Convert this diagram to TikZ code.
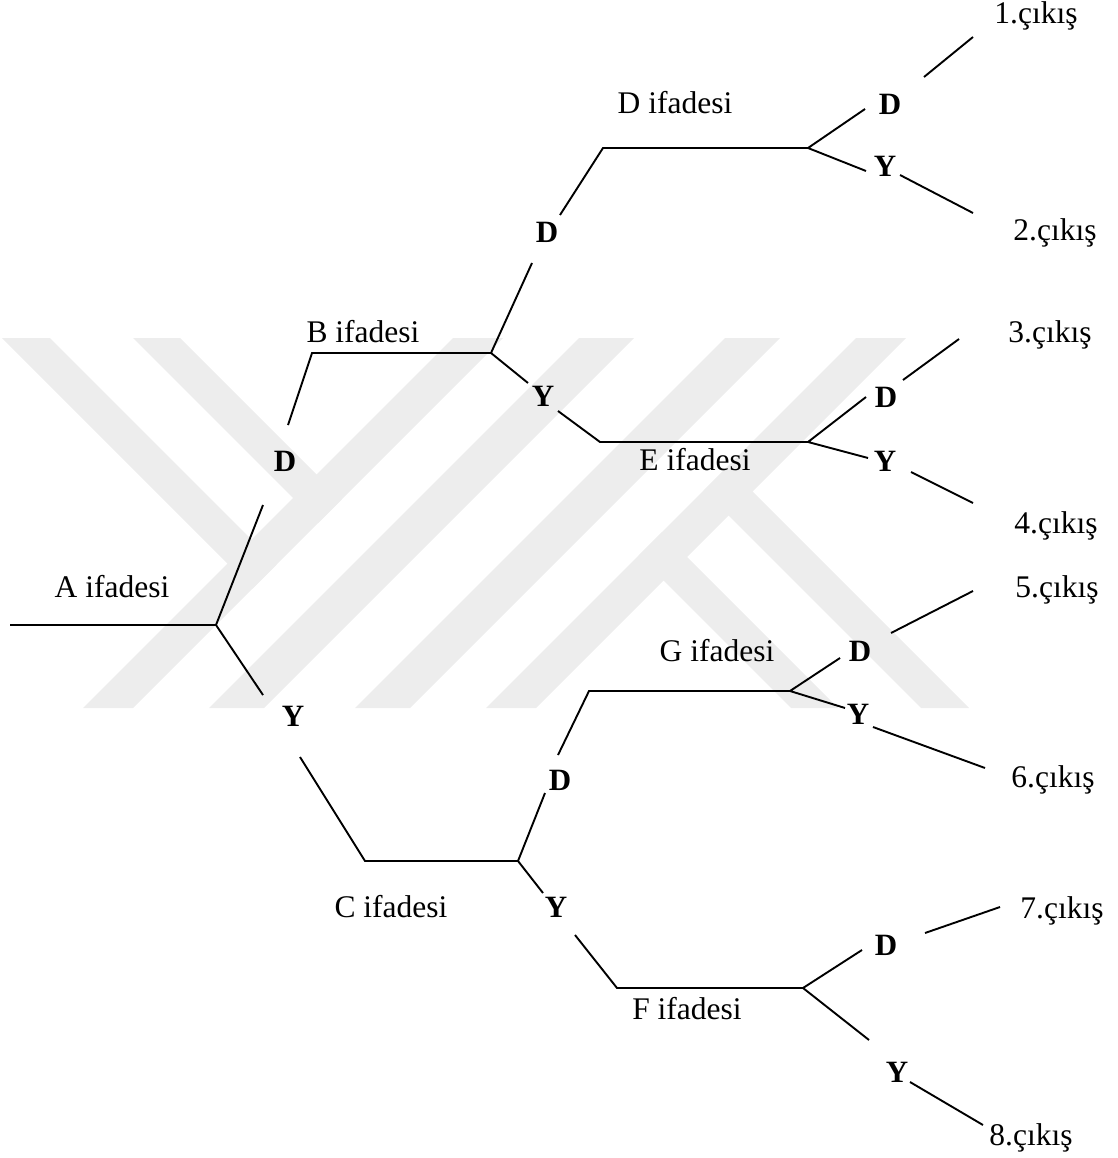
\documentclass[tikz,border=0pt]{standalone}
\usepackage{fontspec}
\setmainfont{Liberation Serif}
\begin{document}
\begin{tikzpicture}[x=1pt,y=-1pt,
  wire/.style={line width=1.9pt, line cap=butt, line join=miter},
  lbl/.style={font=\fontsize{31.5}{36}\selectfont, inner sep=0pt},
  dy/.style={font=\bfseries\fontsize{31}{34}\selectfont, inner sep=0pt},
  wm/.style={fill=black!7}]
\useasboundingbox (0,0) rectangle (1117,1158);

% background emblem: diagonal bands
\fill[wm] (453,338) -- (503,338) -- (133,708) -- (83,708) -- cycle;
\fill[wm] (579,338) -- (634,338) -- (264,708) -- (209,708) -- cycle;
\fill[wm] (725,338) -- (780,338) -- (410,708) -- (355,708) -- cycle;
\fill[wm] (856,338) -- (906,338) -- (536,708) -- (486,708) -- cycle;
\fill[wm] (2,338) -- (50,338) -- (276.5,564.5) -- (252.5,588.5) -- cycle;
\fill[wm] (133,338) -- (180,338) -- (341.5,499.5) -- (318,523) -- cycle;
\fill[wm] (727.5,466.5) -- (969,708) -- (921,708) -- (703.5,490.5) -- cycle;
\fill[wm] (662,532) -- (838,708) -- (791,708) -- (638.5,555.5) -- cycle;

% statement labels
\node[lbl] (tA) at (112,587) {A ifadesi};
\node[lbl] (tB) at (363,332) {B ifadesi};
\node[lbl] (tC) at (391,907) {C ifadesi};
\node[lbl] (tD) at (675,103) {D ifadesi};
\node[lbl] (tE) at (695,460) {E ifadesi};
\node[lbl] (tF) at (687,1009) {F ifadesi};
\node[lbl] (tG) at (717,651) {G ifadesi};

% outputs
\node[lbl] (o1) at (1036,16) {1.çıkış};
\node[lbl] (o2) at (1055,233) {2.çıkış};
\node[lbl] (o3) at (1050,335) {3.çıkış};
\node[lbl] (o4) at (1056,526) {4.çıkış};
\node[lbl] (o5) at (1057,590) {5.çıkış};
\node[lbl] (o6) at (1053,780) {6.çıkış};
\node[lbl] (o7) at (1062,911) {7.çıkış};
\node[lbl] (o8) at (1031,1138) {8.çıkış};

% true / false branch marks
\node[dy] (dA) at (285,461) {D};
\node[dy] (yA) at (293,716) {Y};
\node[dy] (dB) at (547,232) {D};
\node[dy] (yB) at (543,396) {Y};
\node[dy] (dD) at (890,104) {D};
\node[dy] (yD) at (885,166) {Y};
\node[dy] (dE) at (886,397) {D};
\node[dy] (yE) at (885,461) {Y};
\node[dy] (dC) at (560,780) {D};
\node[dy] (yC) at (556,907) {Y};
\node[dy] (dG) at (860,651) {D};
\node[dy] (yG) at (858,714) {Y};
\node[dy] (dF) at (886,945) {D};
\node[dy] (yF) at (897,1072) {Y};

% junctions and line ends
\coordinate (a0) at (10,625);
\coordinate (jA) at (216,625);
\coordinate (aD) at (263,505);
\coordinate (aY) at (263,695);

\coordinate (b0) at (288,425);
\coordinate (b1) at (312,353);
\coordinate (jB) at (491,353);
\coordinate (bD) at (532,263);
\coordinate (bY) at (528,383);

\coordinate (d0) at (560,215);
\coordinate (d1) at (603,148);
\coordinate (jD) at (808,148);
\coordinate (dD1) at (865,109);
\coordinate (dY1) at (866,171);
\coordinate (p1a) at (924,77);
\coordinate (p1b) at (973,37);
\coordinate (p2a) at (900,175);
\coordinate (p2b) at (973,213);

\coordinate (e0) at (558,411);
\coordinate (e1) at (600,442);
\coordinate (jE) at (808,442);
\coordinate (eD) at (866,397);
\coordinate (eY) at (868,458);
\coordinate (p3a) at (903,380);
\coordinate (p3b) at (959,339);
\coordinate (p4a) at (911,472);
\coordinate (p4b) at (973,503);

\coordinate (c0) at (300,757);
\coordinate (c1) at (365,861);
\coordinate (jC) at (518,861);
\coordinate (cD) at (545,793);
\coordinate (cY) at (543,893);

\coordinate (g0) at (558,755);
\coordinate (g1) at (589,691);
\coordinate (jG) at (790,691);
\coordinate (gD) at (840,658);
\coordinate (gY) at (845,708);
\coordinate (p5a) at (891,633);
\coordinate (p5b) at (973,591);
\coordinate (p6a) at (873,727);
\coordinate (p6b) at (985,768);

\coordinate (f0) at (575,935);
\coordinate (f1) at (617,988);
\coordinate (jF) at (803,988);
\coordinate (fD) at (862,950);
\coordinate (fY) at (869,1040);
\coordinate (p7a) at (925,933);
\coordinate (p7b) at (1000,907);
\coordinate (p8a) at (910,1082);
\coordinate (p8b) at (983,1125);

% tree
\draw[wire] (a0) -- (jA);
\draw[wire] (aD) -- (jA) -- (aY);

\draw[wire] (b0) -- (b1) -- (jB);
\draw[wire] (bD) -- (jB) -- (bY);

\draw[wire] (d0) -- (d1) -- (jD);
\draw[wire] (dD1) -- (jD) -- (dY1);
\draw[wire] (p1a) -- (p1b);
\draw[wire] (p2a) -- (p2b);

\draw[wire] (e0) -- (e1) -- (jE);
\draw[wire] (eD) -- (jE) -- (eY);
\draw[wire] (p3a) -- (p3b);
\draw[wire] (p4a) -- (p4b);

\draw[wire] (c0) -- (c1) -- (jC);
\draw[wire] (cD) -- (jC) -- (cY);

\draw[wire] (g0) -- (g1) -- (jG);
\draw[wire] (gD) -- (jG) -- (gY);
\draw[wire] (p5a) -- (p5b);
\draw[wire] (p6a) -- (p6b);

\draw[wire] (f0) -- (f1) -- (jF);
\draw[wire] (fD) -- (jF) -- (fY);
\draw[wire] (p7a) -- (p7b);
\draw[wire] (p8a) -- (p8b);
\end{tikzpicture}
\end{document}
